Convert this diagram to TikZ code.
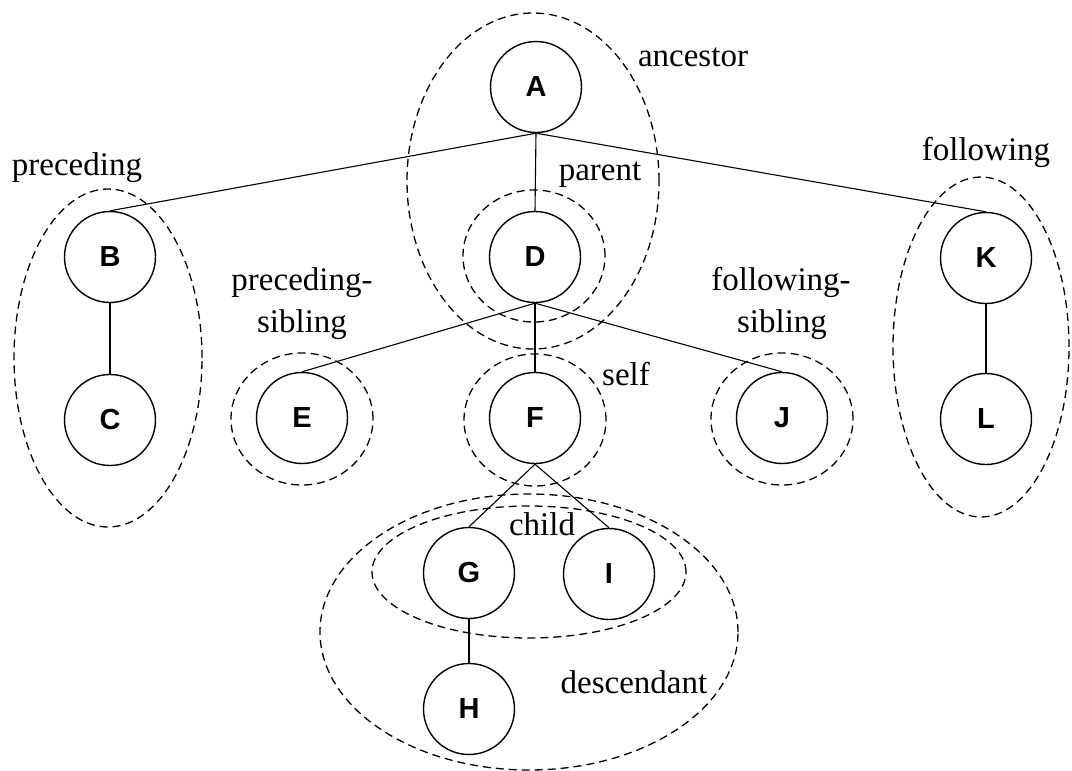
\documentclass[tikz,border=0pt]{standalone}
\usepackage{fontspec}
\setmainfont{Liberation Serif}
\newfontfamily\nodefont{Liberation Sans}
\begin{document}
\begin{tikzpicture}[x=1pt,y=-1pt,
  treenode/.style={circle, draw, line width=1.4pt, minimum size=91pt, inner sep=0pt,
    font=\nodefont\bfseries\fontsize{29}{29}\selectfont},
  edge/.style={line width=1.1pt},
  group/.style={draw, line width=1.3pt, dash pattern=on 8pt off 5pt},
  tag/.style={font=\fontsize{33}{40}\selectfont, inner sep=0pt, anchor=base}
]
\fill[white] (0,0) rectangle (1072,771);
\useasboundingbox (0,0) rectangle (1072,771);

% tree nodes
\node[treenode] (A) at (536,87) {A};
\node[treenode] (B) at (110,257) {B};
\node[treenode] (C) at (110,420) {C};
\node[treenode] (D) at (535,257) {D};
\node[treenode] (E) at (302,418) {E};
\node[treenode] (F) at (535,418) {F};
\node[treenode] (J) at (782,418) {J};
\node[treenode] (K) at (986,258) {K};
\node[treenode] (L) at (986,419) {L};
\node[treenode] (G) at (469,573) {G};
\node[treenode] (I) at (609,574) {I};
\node[treenode] (H) at (469,709) {H};

% tree edges
\draw[edge] (A.south) -- (B.north);
\draw[edge] (A.south) -- (D.north);
\draw[edge] (A.south) -- (K.north);
\draw[edge] (B.south) -- (C.north);
\draw[edge] (D.south) -- (E.north);
\draw[edge] (D.south) -- (F.north);
\draw[edge] (D.south) -- (J.north);
\draw[edge] (K.south) -- (L.north);
\draw[edge] (F.south) -- (G.north);
\draw[edge] (F.south) -- (I.north);
\draw[edge] (G.south) -- (H.north);

% axis regions
\draw[group] (533,181) ellipse [x radius=126pt, y radius=168pt];
\draw[group] (534,256) ellipse [x radius=71pt, y radius=66pt];
\draw[group] (108,358) ellipse [x radius=94pt, y radius=169pt];
\draw[group] (981,347) ellipse [x radius=88pt, y radius=170pt];
\draw[group] (302,419) ellipse [x radius=71pt, y radius=66pt];
\draw[group] (535,420) ellipse [x radius=71pt, y radius=66pt];
\draw[group] (782,419) ellipse [x radius=71pt, y radius=66pt];
\draw[group] (529,572) ellipse [x radius=157pt, y radius=66pt];
\draw[group] (529,632) ellipse [x radius=209pt, y radius=138pt];

% axis names
\node[tag] (tAnc) at (693,66) {ancestor};
\node[tag] (tPar) at (600,180) {parent};
\node[tag] (tPre) at (77,175) {preceding};
\node[tag] (tFol) at (986,160) {following};
\node[tag] (tPs1) at (302,290) {preceding-};
\node[tag] (tPs2) at (302,332) {sibling};
\node[tag] (tFs1) at (781,290) {following-};
\node[tag] (tFs2) at (782,332) {sibling};
\node[tag] (tSelf) at (626,385) {self};
\node[tag] (tChild) at (542,535) {child};
\node[tag] (tDesc) at (634,693) {descendant};
\end{tikzpicture}
\end{document}
